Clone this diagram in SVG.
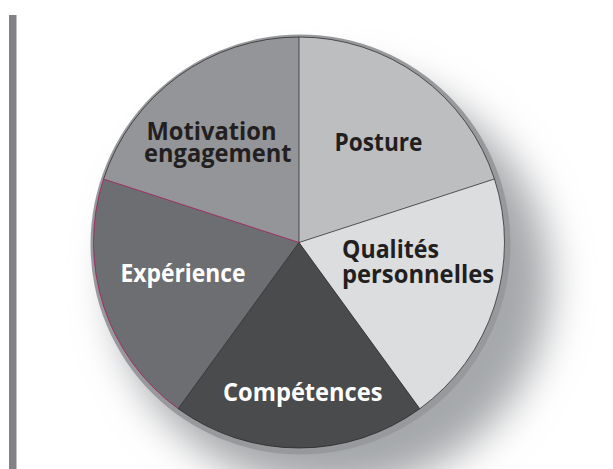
<svg xmlns="http://www.w3.org/2000/svg" width="613" height="469" viewBox="0 0 613 469">
  <defs>
    <filter id="soft" filterUnits="userSpaceOnUse" x="0" y="0" width="613" height="469">
      <feGaussianBlur stdDeviation="20"/>
    </filter>
    <style>
      .lbl { font-family: "Open Sans", "DejaVu Sans", sans-serif; font-weight: 700; font-size: 25px; }
      .dark { fill: #231f20; }
      .light { fill: #ffffff; }
      .div { stroke: #231f20; stroke-width: 0.7; fill: none; }
      .mag { stroke: #a3195b; stroke-width: 0.8; fill: none; }
    </style>
  </defs>

  <!-- page background with the disc's cast shadow -->
  <rect x="0" y="0" width="613" height="469" fill="#ffffff"/>
  <ellipse cx="332" cy="282" rx="218" ry="208" fill="#a5a7aa" filter="url(#soft)"/>

  <!-- vertical margin bar -->
  <rect x="9" y="15" width="7.5" height="454" fill="#808285"/>

  <!-- disc edge -->
  <circle cx="300.5" cy="244.5" r="210" fill="#97999c"/>

  <g id="posture">
    <path d="M299,242.5 L299,37 A205.5,205.5 0 0,1 494.44,179 Z" fill="#bcbec0"/>
    <text class="lbl dark" x="334.5" y="150.7" textLength="88" lengthAdjust="spacingAndGlyphs">Posture</text>
  </g>
  <g id="qualites">
    <path d="M299,242.5 L494.44,179 A205.5,205.5 0 0,1 419.79,408.75 Z" fill="#dcdddf"/>
    <text class="lbl dark" x="342" y="258.3" textLength="97" lengthAdjust="spacingAndGlyphs">Qualités</text>
    <text class="lbl dark" x="342" y="283.3" textLength="152" lengthAdjust="spacingAndGlyphs">personnelles</text>
  </g>
  <g id="competences">
    <path d="M299,242.5 L419.79,408.75 A205.5,205.5 0 0,1 178.21,408.75 Z" fill="#4a4b4d"/>
    <text class="lbl light" x="223" y="400.7" textLength="159.5" lengthAdjust="spacingAndGlyphs">Compétences</text>
  </g>
  <g id="experience">
    <path d="M299,242.5 L178.21,408.75 A205.5,205.5 0 0,1 103.56,179 Z" fill="#6d6e71"/>
    <text class="lbl light" x="120.5" y="281.7" textLength="125" lengthAdjust="spacingAndGlyphs">Expérience</text>
  </g>
  <g id="motivation">
    <path d="M299,242.5 L103.56,179 A205.5,205.5 0 0,1 299,37 Z" fill="#939598"/>
    <text class="lbl dark" x="146.5" y="140" textLength="130" lengthAdjust="spacingAndGlyphs">Motivation</text>
    <text class="lbl dark" x="144" y="161.7" textLength="147.5" lengthAdjust="spacingAndGlyphs">engagement</text>
  </g>

  <!-- slice dividers and outline -->
  <g id="dividers">
    <path class="div" d="M299,37 L299,242.5 L494.44,179 M299,242.5 L419.79,408.75 M299,242.5 L178.21,408.75"/>
    <path class="div" d="M178.21,408.75 A205.5,205.5 0 0,0 419.79,408.75 A205.5,205.5 0 0,0 494.44,179 A205.5,205.5 0 0,0 299,37 A205.5,205.5 0 0,0 103.56,179"/>
    <path class="mag" d="M299,242.5 L103.56,179 A205.5,205.5 0 0,0 178.21,408.75"/>
  </g>
</svg>
